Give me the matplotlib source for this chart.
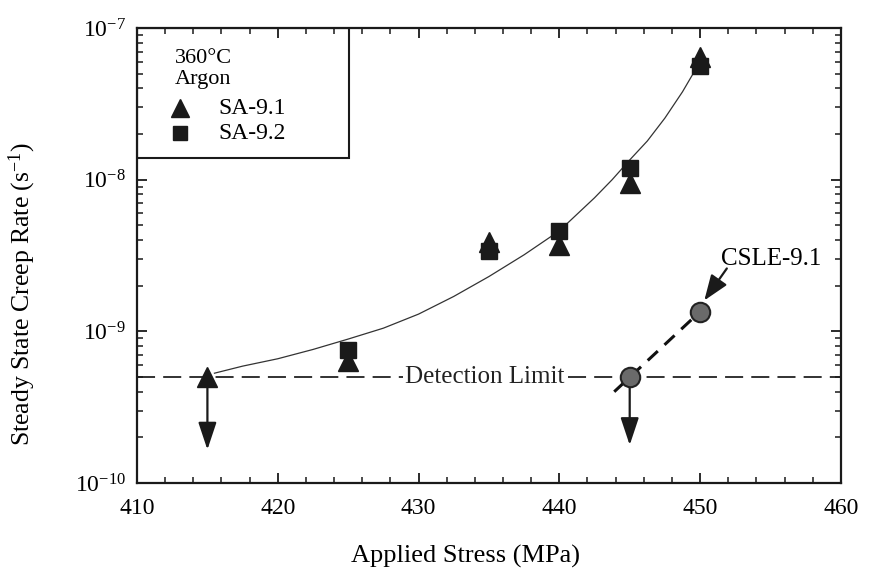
import matplotlib.pyplot as plt
from matplotlib.patches import Rectangle
from matplotlib.ticker import MultipleLocator, LogLocator, NullFormatter

plt.rcParams['font.family'] = ['Liberation Serif', 'DejaVu Serif']
plt.rcParams['mathtext.fontset'] = 'custom'
plt.rcParams['mathtext.rm'] = 'Liberation Serif'
plt.rcParams['mathtext.it'] = 'Liberation Serif:italic'

# SA-9.1 (triangles)
sa91_stress = [415, 425, 435, 440, 445, 450]
sa91_rate = [5.0e-10, 6.4e-10, 3.9e-9, 3.7e-9, 9.5e-9, 6.4e-8]

# SA-9.2 (squares)
sa92_stress = [425, 435, 440, 445, 450]
sa92_rate = [7.5e-10, 3.4e-9, 4.6e-9, 1.2e-8, 5.6e-8]

# CSLE-9.1 (circles) and its dashed trend
csle_stress = [445, 450]
csle_rate = [5.0e-10, 1.35e-9]
csle_line_stress = [443.9, 450]
csle_line_rate = [4.0e-10, 1.35e-9]

# fitted curve through the SA data
fit_stress = [415.5, 417.5, 420, 422.5, 425, 427.5, 430, 432.5, 435,
              437.5, 440, 442.5, 443.75, 445, 446.25, 447.5, 448.75, 450]
fit_rate = [5.3e-10, 5.9e-10, 6.6e-10, 7.6e-10, 8.9e-10, 1.05e-9, 1.3e-9,
            1.7e-9, 2.3e-9, 3.2e-9, 4.6e-9, 7.6e-9, 1.0e-8, 1.35e-8, 1.8e-8,
            2.55e-8, 3.8e-8, 6.0e-8]

detect_limit = 5.0e-10
# points below the detection limit (arrow tips)
below_stress = [415, 445]
below_tip = [1.66e-10, 1.78e-10]

xticks = [410, 420, 430, 440, 450, 460]
yticks = [1e-10, 1e-9, 1e-8, 1e-7]
ytick_labels = [r'$\mathregular{10^{-10}}$', r'$\mathregular{10^{-9}}$',
                r'$\mathregular{10^{-8}}$', r'$\mathregular{10^{-7}}$']

fig = plt.figure(figsize=(8.7, 5.73), dpi=100)
ax = fig.add_axes([0.1575, 0.157, 0.809, 0.794])

ax.plot(fit_stress, fit_rate, color='#333333', lw=0.9, zorder=2)

# detection limit, broken around its label
ax.plot([410, 428.9], [detect_limit] * 2, color='#222222', lw=1.3,
        dashes=(10, 4.5), zorder=1)
ax.plot([440.6, 460], [detect_limit] * 2, color='#222222', lw=1.3,
        dashes=(10, 4.5), zorder=1)
ax.text(434.7, detect_limit, 'Detection Limit', ha='center', va='center',
        fontsize=18, color='#222222')

ax.plot(csle_line_stress, csle_line_rate, color='#111111', lw=2.2,
        dashes=(4.5, 3), zorder=2)

ax.plot(sa92_stress, sa92_rate, 's', color='#1a1a1a', ms=11, zorder=3)
ax.plot(sa91_stress, sa91_rate, '^', color='#1a1a1a', ms=14, zorder=4)
ax.plot(csle_stress, csle_rate, 'o', mfc='#6a6a6a', mec='#222222', mew=1.5,
        ms=14, zorder=4)

for x, tip in zip(below_stress, below_tip):
    ax.annotate('', xy=(x, tip), xytext=(x, detect_limit),
                arrowprops=dict(arrowstyle='-|>,head_length=1.2,head_width=0.4',
                                mutation_scale=14, lw=1.6, color='#1a1a1a',
                                shrinkA=8, shrinkB=0))

ax.text(451.5, 3.0e-9, 'CSLE-9.1', ha='left', va='center', fontsize=18,
        clip_on=True)
ax.annotate('', xy=(450.3, 1.6e-9), xytext=(451.9, 2.6e-9),
            arrowprops=dict(arrowstyle='-|>,head_length=1.2,head_width=0.45',
                            mutation_scale=13, lw=1.6, color='#1a1a1a',
                            shrinkA=0, shrinkB=0))

# legend box drawn by hand to match the original layout
ax.add_patch(Rectangle((0, 0.714), 0.301, 0.286, transform=ax.transAxes,
                       fill=False, lw=1.5, ec='#1a1a1a', zorder=5))
ax.text(0.054, 0.934, '360°C', transform=ax.transAxes, va='center', fontsize=16)
ax.text(0.054, 0.886, 'Argon', transform=ax.transAxes, va='center', fontsize=16)
ax.plot([0.061], [0.824], '^', color='#1a1a1a', ms=13, transform=ax.transAxes)
ax.plot([0.061], [0.769], 's', color='#1a1a1a', ms=10, transform=ax.transAxes)
ax.text(0.115, 0.824, 'SA-9.1', transform=ax.transAxes, va='center', fontsize=17)
ax.text(0.115, 0.769, 'SA-9.2', transform=ax.transAxes, va='center', fontsize=17)

ax.set_xlim(410, 460)
ax.set_yscale('log')
ax.set_ylim(1e-10, 1e-7)
ax.set_xticks(xticks)
ax.xaxis.set_minor_locator(MultipleLocator(2))
ax.set_yticks(yticks)
ax.set_yticklabels(ytick_labels)
ax.yaxis.set_minor_locator(LogLocator(base=10, subs=range(2, 10)))
ax.yaxis.set_minor_formatter(NullFormatter())

ax.tick_params(which='both', direction='in', top=True, right=True,
               color='#1a1a1a', labelsize=17)
ax.tick_params(which='major', length=7, width=1.3)
ax.tick_params(which='minor', length=4, width=1.1)
ax.tick_params(axis='x', pad=11)
ax.tick_params(axis='y', pad=8)
for s in ax.spines.values():
    s.set_linewidth(1.6)
    s.set_color('#1a1a1a')

ax.set_xlabel('Applied Stress (MPa)', fontsize=19)
ax.xaxis.set_label_coords(0.466, -0.135)
ax.set_ylabel('Steady State Creep Rate (s$^{-1}$)', fontsize=18.5)
ax.yaxis.set_label_coords(-0.14, 0.415)

fig.savefig('out.png', dpi=100)
